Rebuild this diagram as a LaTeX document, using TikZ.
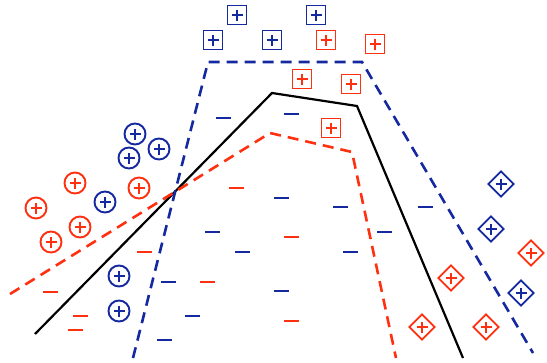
\documentclass[tikz,border=0pt]{standalone}
\usetikzlibrary{shapes.geometric}
\definecolor{cb}{HTML}{1428A0}
\definecolor{cr}{HTML}{FF3010}
\tikzset{
  plusmark/.style={path picture={
    \draw[line width=2.6pt,#1] ([xshift=-5.5pt]path picture bounding box.center) -- ([xshift=5.5pt]path picture bounding box.center);
    \draw[line width=2.6pt,#1] ([yshift=-5.5pt]path picture bounding box.center) -- ([yshift=5.5pt]path picture bounding box.center);}},
  circp/.style={circle, draw=#1, line width=1.9pt, minimum size=21pt, inner sep=0pt, plusmark=#1},
  sqp/.style={rectangle, draw=#1, line width=1.9pt, minimum size=19pt, inner sep=0pt, plusmark=#1},
  dmp/.style={diamond, draw=#1, line width=1.9pt, minimum size=26pt, inner sep=0pt, plusmark=#1},
  mn/.style={rectangle, fill=#1, minimum width=15pt, minimum height=2.2pt, inner sep=0pt},
  bound/.style={line width=2.6pt, dash pattern=on 11pt off 7pt},
}
\begin{document}
\begin{tikzpicture}[x=1pt,y=-1pt]
\useasboundingbox (0,0) rectangle (547,362);
% boundaries
\coordinate (k1) at (35,334); \coordinate (k2) at (272,93); \coordinate (k3) at (357,106); \coordinate (k4) at (463,358);
\coordinate (b1) at (133,358); \coordinate (b2) at (208,62); \coordinate (b3) at (362,62); \coordinate (b4) at (533,353);
\coordinate (r1) at (10,294); \coordinate (r2) at (270,133); \coordinate (r3) at (352,152); \coordinate (r4) at (396,358);
\draw[line width=2.2pt, black] (k1) -- (k2) -- (k3) -- (k4);
\draw[bound, cb] (b1) -- (b2) -- (b3) -- (b4);
\draw[bound, cr] (r1) -- (r2) -- (r3) -- (r4);
% squares
\node[sqp=cb] (s1) at (237,15) {};
\node[sqp=cb] (s2) at (316,15) {};
\node[sqp=cb] (s3) at (213,40) {};
\node[sqp=cb] (s4) at (272,40) {};
\node[sqp=cr] (s5) at (326,40) {};
\node[sqp=cr] (s6) at (375,44) {};
\node[sqp=cr] (s7) at (302,79) {};
\node[sqp=cr] (s8) at (351,84) {};
\node[sqp=cr] (s9) at (331,128) {};
% circles
\node[circp=cb] (c1) at (135,134) {};
\node[circp=cb] (c2) at (159,149) {};
\node[circp=cb] (c3) at (129,158) {};
\node[circp=cr] (c4) at (75,183) {};
\node[circp=cr] (c5) at (139,188) {};
\node[circp=cb] (c6) at (105,202) {};
\node[circp=cr] (c7) at (36,208) {};
\node[circp=cr] (c8) at (80,227) {};
\node[circp=cr] (c9) at (51,242) {};
\node[circp=cb] (c10) at (119,276) {};
\node[circp=cb] (c11) at (119,311) {};
% diamonds
\node[dmp=cb] (d1) at (501,184) {};
\node[dmp=cb] (d2) at (491,229) {};
\node[dmp=cr] (d3) at (531,253) {};
\node[dmp=cr] (d4) at (451,278) {};
\node[dmp=cb] (d5) at (521,293) {};
\node[dmp=cr] (d6) at (422,327) {};
\node[dmp=cr] (d7) at (486,327) {};
% minus signs
\node[mn=cb] (m1) at (223,118) {};
\node[mn=cb] (m2) at (291,114) {};
\node[mn=cr] (m3) at (236,188) {};
\node[mn=cb] (m4) at (281,198) {};
\node[mn=cb] (m5) at (340,207) {};
\node[mn=cb] (m6) at (425,207) {};
\node[mn=cb] (m7) at (212,232) {};
\node[mn=cr] (m8) at (291,237) {};
\node[mn=cb] (m9) at (384,232) {};
\node[mn=cr] (m10) at (144,252) {};
\node[mn=cb] (m11) at (242,252) {};
\node[mn=cb] (m12) at (350,252) {};
\node[mn=cb] (m13) at (168,282) {};
\node[mn=cr] (m14) at (207,282) {};
\node[mn=cb] (m15) at (281,291) {};
\node[mn=cr] (m16) at (50,292) {};
\node[mn=cb] (m17) at (192,316) {};
\node[mn=cr] (m18) at (80,316) {};
\node[mn=cr] (m19) at (291,321) {};
\node[mn=cr] (m20) at (75,330) {};
\node[mn=cb] (m21) at (164,340) {};
\end{tikzpicture}
\end{document}
